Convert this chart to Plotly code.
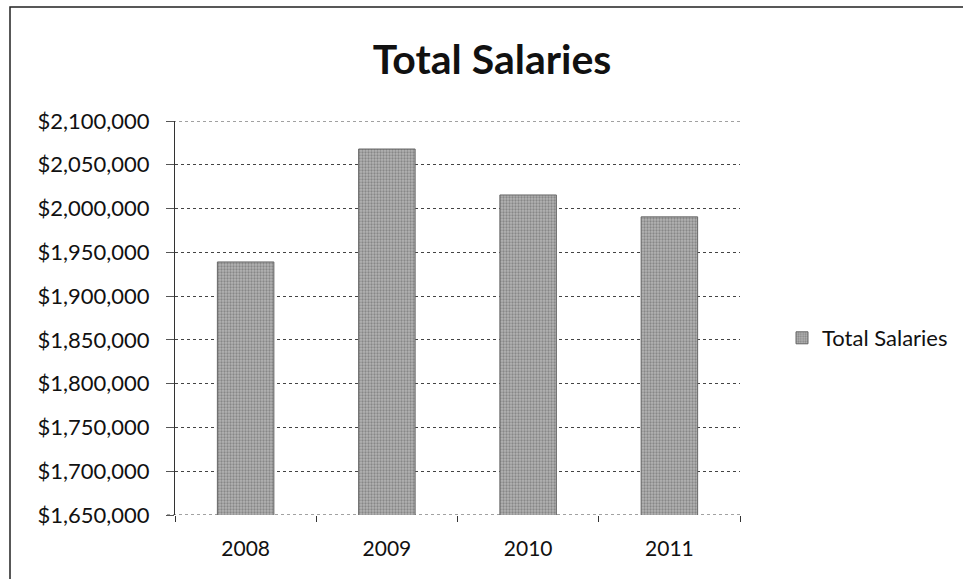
import plotly.graph_objects as go

years = ["2008", "2009", "2010", "2011"]
salaries = [1939000, 2068000, 2015500, 1990500]
series_name = "Total Salaries"
y_ticks = list(range(1650000, 2100001, 50000))
y_tick_labels = ["${:,}".format(v) for v in y_ticks]

W, H = 963, 579
L, R, T, B = 175, 223, 121, 64
PW, PH = W - L - R, H - T - B
FONT = "Lato, Open Sans, sans-serif"

fig = go.Figure()
fig.add_trace(go.Bar(
    x=years, y=salaries, name=series_name,
    marker=dict(color="#a0a0a0", line=dict(color="#666", width=1),
                pattern=dict(shape=".", fgcolor="#5a5a5a", bgcolor="#b4b4b4", size=3, solidity=0.45)),
    showlegend=True,
))

fig.update_layout(
    width=W, height=H,
    margin=dict(l=L, r=R, t=T, b=B, autoexpand=False),
    paper_bgcolor="white", plot_bgcolor="white",
    bargap=0.6,
    font=dict(family=FONT, color="#111", size=21),
    title=dict(text="<b>Total Salaries</b>", x=492 / W, xanchor="center", xref="container",
               y=1 - 60 / H, yanchor="middle", yref="container",
               font=dict(size=41, family=FONT, color="#111")),
    legend=dict(x=(782 - L) / PW, y=(515 - 338) / PH, xanchor="left", yanchor="middle",
                font=dict(size=22), bgcolor="rgba(0,0,0,0)", itemwidth=30),
    yaxis=dict(range=[y_ticks[0], y_ticks[-1]], tickvals=y_ticks, ticktext=y_tick_labels,
               showgrid=True, gridcolor="#444", griddash="dot", gridwidth=1,
               showline=True, linecolor="#333", linewidth=1, ticks="outside", ticklen=8,
               tickcolor="#555", zeroline=False, ticklabelstandoff=12,
               tickfont=dict(size=22)),
    xaxis=dict(type="category", tickson="boundaries", ticks="outside", ticklen=6,
               tickcolor="#333", showline=False, showgrid=False, ticklabelstandoff=19,
               tickfont=dict(size=21)),
)

# top and bottom gridlines (hidden by plotly at range edges)
for v in (y_ticks[0], y_ticks[-1]):
    fig.add_shape(type="line", xref="paper", yref="y", x0=-8 / PW, x1=1, y0=v, y1=v,
                  line=dict(color="#444", width=1, dash="dot"), layer="below")

# outer chart border
fig.add_shape(type="rect", xref="paper", yref="paper",
              x0=-(L - 10) / PW, x1=1 + (R + 20) / PW,
              y0=-(B + 20) / PH, y1=1 + (T - 7) / PH,
              line=dict(color="#222", width=1.5), layer="below")

fig.write_html("out.html")
